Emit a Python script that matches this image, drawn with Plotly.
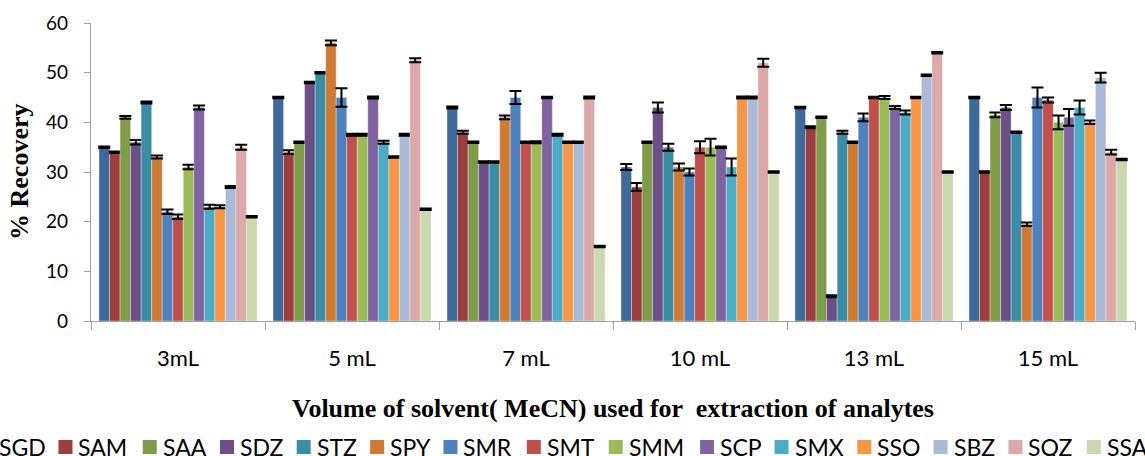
import plotly.graph_objects as go

categories = ["3mL", "5 mL", "7 mL", "10 mL", "13 mL", "15 mL"]

series_names = ["SGD", "SAM", "SAA", "SDZ", "STZ", "SPY", "SMR", "SMT",
                "SMM", "SCP", "SMX", "SSO", "SBZ", "SQZ", "SSA"]

SGD = [35, 45, 43, 31, 43, 45]
SAM = [34, 34, 38, 27, 39, 30]
SAA = [41, 36, 36, 36, 41, 41.5]
SDZ = [36, 48, 32, 43, 5, 43]
STZ = [44, 50, 32, 35, 38, 38]
SPY = [33, 56, 41, 31, 36, 19.5]
SMR = [22, 45, 45, 30, 41, 45]
SMT = [21, 37.5, 36, 35, 45, 44.5]
SMM = [31, 37.5, 36, 35, 45, 40]
SCP = [43, 45, 45, 35, 43, 41]
SMX = [23, 36, 37.5, 31, 42, 43]
SSO = [23, 33, 36, 45, 45, 40]
SBZ = [27, 37.5, 36, 45, 49.5, 49]
SQZ = [35, 52.5, 45, 52, 54, 34]
SSA = [21, 22.5, 15, 30, 30, 32.5]

SGD_err = [0.15, 0.15, 0.2, 0.6, 0.15, 0.15]
SAM_err = [0.15, 0.4, 0.3, 0.8, 0.2, 0.15]
SAA_err = [0.3, 0.15, 0.15, 0.15, 0.15, 0.5]
SDZ_err = [0.45, 0.15, 0.15, 1.0, 0.2, 0.5]
STZ_err = [0.2, 0.15, 0.15, 0.7, 0.3, 0.15]
SPY_err = [0.3, 0.5, 0.4, 0.7, 0.15, 0.35]
SMR_err = [0.45, 1.85, 1.3, 0.7, 0.8, 2.0]
SMT_err = [0.45, 0.2, 0.15, 1.2, 0.15, 0.5]
SMM_err = [0.45, 0.2, 0.2, 1.7, 0.3, 1.4]
SCP_err = [0.4, 0.2, 0.15, 0.15, 0.3, 1.7]
SMX_err = [0.4, 0.3, 0.2, 1.7, 0.4, 1.4]
SSO_err = [0.3, 0.15, 0.15, 0.2, 0.15, 0.35]
SBZ_err = [0.2, 0.2, 0.15, 0.2, 0.15, 1.0]
SQZ_err = [0.5, 0.4, 0.2, 0.8, 0.15, 0.5]
SSA_err = [0.15, 0.15, 0.15, 0.15, 0.15, 0.15]

values = [SGD, SAM, SAA, SDZ, STZ, SPY, SMR, SMT, SMM, SCP, SMX, SSO, SBZ, SQZ, SSA]
errors = [SGD_err, SAM_err, SAA_err, SDZ_err, STZ_err, SPY_err, SMR_err, SMT_err,
          SMM_err, SCP_err, SMX_err, SSO_err, SBZ_err, SQZ_err, SSA_err]

colors = ["#3E6A9B", "#9C3E3D", "#7F9A49", "#6A5087", "#3A8DA5", "#CE7A37",
          "#4F81BD", "#C0504D", "#9BBB59", "#8064A2", "#4BACC6", "#F79646",
          "#AABAD7", "#DAA9A8", "#C9D8AE"]

fig = go.Figure()
for name, vals, errs, col in zip(series_names, values, errors, colors):
    fig.add_trace(go.Bar(
        name=name, x=categories, y=vals,
        marker=dict(color=col, line=dict(color="rgba(255,255,255,0.55)", width=0.6)),
        error_y=dict(type="data", array=errs, visible=True, color="black",
                     thickness=2, width=6),
    ))

# ---- layout geometry ----
W, H = 1145, 456
ML, MR, MT, MB = 91, 10, 23, 135
PW, PH = W - ML - MR, H - MT - MB


def px_to_paper_x(px):
    return (px - ML) / PW


def px_to_paper_y(py):
    return (H - MB - py) / PH


ytick_font = dict(family="Lato, Carlito, sans-serif", size=19, color="black")
xtick_font = dict(family="Lato, Carlito, sans-serif", size=22, color="black")
serif_bold = dict(family="Liberation Serif, Times New Roman, serif", size=26,
                  color="black", weight="bold")
legend_font = dict(family="Lato, Carlito, sans-serif", size=23, color="black")

# ---- legend row (one line, wider than the page and clipped at both sides as in the original)
# approximate Calibri advance widths (em) to lay the entries out
char_em = {"S": .459, "A": .579, "M": .855, "G": .631, "D": .615, "Z": .523,
           "T": .487, "P": .517, "Y": .487, "R": .543, "C": .533, "X": .519,
           "O": .662, "B": .544, "Q": .676}
ref_font_px = 25.5
swatch = 14
swatch_gap = 6
entry_gap = 16
legend_start_px = -21
swatch_top_px, swatch_bot_px = 440, 454
legend_mid_px = 446.5

shapes = []
annotations = []
cursor = legend_start_px
for name, col in zip(series_names, colors):
    shapes.append(dict(type="rect", xref="paper", yref="paper",
                       x0=px_to_paper_x(cursor), x1=px_to_paper_x(cursor + swatch),
                       y0=px_to_paper_y(swatch_bot_px), y1=px_to_paper_y(swatch_top_px),
                       fillcolor=col, line=dict(width=0), layer="above"))
    annotations.append(dict(text=name, xref="paper", yref="paper",
                            x=px_to_paper_x(cursor + swatch + swatch_gap - 2),
                            y=px_to_paper_y(legend_mid_px),
                            xanchor="left", yanchor="middle", showarrow=False,
                            font=legend_font))
    text_w = sum(char_em[c] for c in name) * ref_font_px
    cursor += swatch + swatch_gap + text_w + entry_gap

annotations += [
    dict(text="% Recovery", xref="paper", yref="paper", x=-0.069, y=0.5,
         textangle=-90, showarrow=False, xanchor="center", yanchor="middle",
         font=serif_bold),
    dict(text="Volume of solvent( MeCN) used for \u00a0extraction of analytes",
         xref="paper", yref="paper", x=0.5, y=-0.295, showarrow=False,
         xanchor="center", yanchor="middle", font=serif_bold),
]

fig.update_layout(
    width=W, height=H,
    margin=dict(l=ML, r=MR, t=MT, b=MB),
    paper_bgcolor="white", plot_bgcolor="white",
    barmode="group", bargap=0.092, bargroupgap=0,
    showlegend=False,
    xaxis=dict(
        showline=True, linecolor="#A0A0A0", linewidth=1.3,
        ticks="outside", tickson="boundaries", ticklen=8, tickcolor="#A0A0A0",
        tickwidth=1.3, tickfont=xtick_font, ticklabelstandoff=17,
        showgrid=False, zeroline=False,
    ),
    yaxis=dict(
        range=[0, 60], dtick=10, showline=True, linecolor="#A0A0A0", linewidth=1.3,
        ticks="outside", ticklen=6, tickcolor="#A0A0A0", tickwidth=1.3,
        tickfont=ytick_font, ticklabelstandoff=12,
        showgrid=False, zeroline=False,
    ),
    shapes=shapes,
    annotations=annotations,
)

fig.write_html("out.html")
